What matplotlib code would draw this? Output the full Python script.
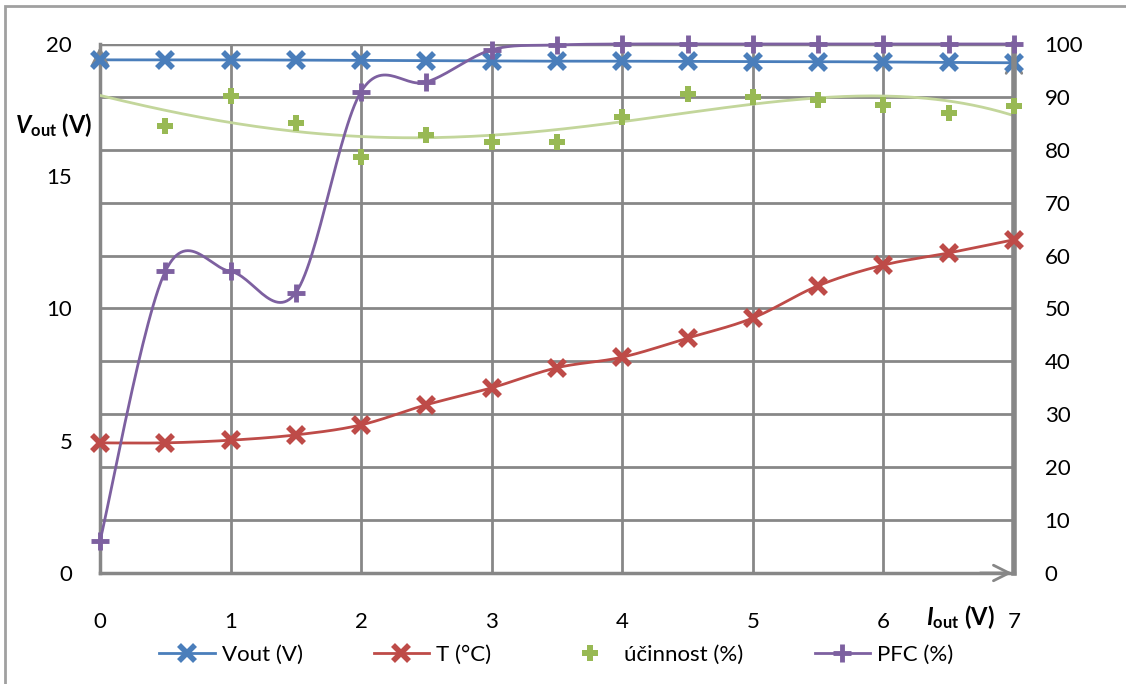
import numpy as np
import matplotlib
matplotlib.use("Agg")
import matplotlib.pyplot as plt
from matplotlib.patches import Rectangle

plt.rcParams['font.family'] = ['Lato', 'DejaVu Sans']
plt.rcParams['mathtext.fontset'] = 'custom'
plt.rcParams['mathtext.rm'] = 'Lato'
plt.rcParams['mathtext.bf'] = 'Lato:bold'
plt.rcParams['mathtext.it'] = 'Lato:italic'
plt.rcParams['mathtext.bfit'] = 'Lato:bold:italic'

# data
iout = [0, 0.5, 1, 1.5, 2, 2.5, 3, 3.5, 4, 4.5, 5, 5.5, 6, 6.5, 7]
vout = [19.40, 19.40, 19.40, 19.39, 19.38, 19.37, 19.36, 19.35, 19.35, 19.34, 19.33, 19.33, 19.32, 19.30, 19.29]
temp = [24.6, 24.6, 25.1, 26.1, 28.0, 31.8, 35.0, 38.8, 40.8, 44.4, 48.2, 54.3, 58.2, 60.5, 63.0]
ucinnost = [np.nan, 84.5, 90.2, 85.0, 78.6, 82.8, 81.5, 81.5, 86.2, 90.5, 90.0, 89.4, 88.5, 87.0, 88.3]
pfc = [6.0, 57.0, 57.0, 53.0, 91.0, 92.8, 98.9, 99.8, 100, 100, 100, 100, 100, 100, 100]

BLUE = '#4A7EBB'
RED = '#BE4B48'
GREEN = '#98B954'
PURPLE = '#7D60A0'
TREND = '#C3D69B'
GRID = '#878787'


def smooth(x, y, n=30):
    # Excel-like smoothed line (Catmull-Rom bezier)
    x = np.asarray(x, float)
    y = np.asarray(y, float)
    px = np.concatenate([[x[0]], x, [x[-1]]])
    py = np.concatenate([[y[0]], y, [y[-1]]])
    t = np.linspace(0, 1, n)
    xs, ys = [], []
    for i in range(1, len(px) - 2):
        p0 = np.array([px[i], py[i]])
        p3 = np.array([px[i + 1], py[i + 1]])
        c1 = p0 + (p3 - np.array([px[i - 1], py[i - 1]])) / 6
        c2 = p3 - (np.array([px[i + 2], py[i + 2]]) - p0) / 6
        b = ((1 - t) ** 3)[:, None] * p0 + (3 * (1 - t) ** 2 * t)[:, None] * c1 \
            + (3 * (1 - t) * t ** 2)[:, None] * c2 + (t ** 3)[:, None] * p3
        xs.extend(b[:, 0])
        ys.extend(b[:, 1])
    return np.array(xs), np.array(ys)


fig = plt.figure(figsize=(11.26, 6.84), dpi=100)
fig.patches.append(Rectangle((5 / 1126, -0.02), 1.05, 1.011, transform=fig.transFigure,
                             fill=False, edgecolor='#A0A0A0', lw=2))
ax = fig.add_axes([0.0888, 0.1623, 0.8117, 0.7734])
ax2 = ax.twinx()

ax.set_xlim(0, 7)
ax.set_ylim(0, 20)
ax2.set_ylim(0, 100)

for v in range(1, 7):
    ax.axvline(v, color=GRID, lw=2, zorder=0)
for v in np.arange(2, 20, 2):
    ax.axhline(v, color=GRID, lw=2, zorder=0)
ax.axhline(20, color=GRID, lw=2.5, zorder=0)

# Vout (left axis)
sx, sy = smooth(iout, vout)
ax.plot(sx, sy, color=BLUE, lw=2, zorder=3)
ax.plot(iout, vout, ls='none', marker='x', ms=12, mew=4, color=BLUE, zorder=4, clip_on=False)

# T, ucinnost, PFC (right axis)
sx, sy = smooth(iout, temp)
ax2.plot(sx, sy, color=RED, lw=2, zorder=3)
ax2.plot(iout, temp, ls='none', marker='x', ms=12, mew=4, color=RED, zorder=4, clip_on=False)

ux = np.array(iout)
uy = np.array(ucinnost)
ok = ~np.isnan(uy)
coef = np.polyfit(ux[ok], uy[ok], 4)
tx = np.linspace(0, 7, 200)
ax2.plot(tx, np.polyval(coef, tx), color=TREND, lw=2, zorder=2)
ax2.plot(iout, ucinnost, ls='none', marker='P', ms=11, mew=0, color=GREEN, zorder=4, clip_on=False)

sx, sy = smooth(iout, pfc)
ax2.plot(sx, sy, color=PURPLE, lw=2, zorder=3, clip_on=False)
ax2.plot(iout, pfc, ls='none', marker='+', ms=13, mew=3.5, color=PURPLE, zorder=4, clip_on=False)

for a in (ax, ax2):
    a.spines['top'].set_visible(False)
    a.tick_params(length=0, labelsize=16)
    a.set_zorder(1)
ax.patch.set_visible(False)
ax2.spines['left'].set_visible(False)
ax2.spines['bottom'].set_visible(False)
ax.spines['right'].set_visible(False)
ax.spines['left'].set_color(GRID)
ax.spines['left'].set_linewidth(2.5)
ax.spines['bottom'].set_color(GRID)
ax.spines['bottom'].set_linewidth(2.5)
ax2.spines['right'].set_color(GRID)
ax2.spines['right'].set_linewidth(4)

ax.set_xticks(range(8))
ax.set_yticks([0, 5, 10, 15, 20])
ax2.set_yticks(range(0, 101, 10))
ax.tick_params(axis='x', pad=28)
ax.tick_params(axis='y', pad=20)
ax2.tick_params(axis='y', pad=22)

# axis arrows
arrow = dict(arrowstyle='->', color=GRID, lw=2, mutation_scale=28)
ax.annotate('', xy=(0, 1.0), xytext=(0, 0.96), xycoords='axes fraction', arrowprops=arrow)
ax.annotate('', xy=(1, 0.985), xytext=(1, 0.94), xycoords='axes fraction', arrowprops=arrow)
ax.annotate('', xy=(1.001, 0), xytext=(0.96, 0), xycoords='axes fraction', arrowprops=arrow)

fig.text(0.048, 0.817, r'$\mathbfit{V}_{\mathbf{out}}$ (V)', fontsize=17, fontweight='bold',
         ha='center', va='center')
fig.text(0.853, 0.098, r'$\mathbfit{I}_{\mathbf{out}}$ (V)', fontsize=17, fontweight='bold',
         ha='center', va='center')

# legend
h1, = ax.plot([], [], color=BLUE, lw=2, marker='x', ms=12, mew=4)
h2, = ax.plot([], [], color=RED, lw=2, marker='x', ms=12, mew=4)
h3, = ax.plot([], [], ls='none', color=GREEN, marker='P', ms=11, mew=0)
h4, = ax.plot([], [], color=PURPLE, lw=2, marker='+', ms=13, mew=3.5)
fig.legend([h1, h2, h3, h4], ['Vout (V)', 'T (°C)', 'účinnost (%)', 'PFC (%)'],
           loc='center', bbox_to_anchor=(0.494, 0.042), ncol=4, frameon=False,
           fontsize=16, handlelength=2.5, columnspacing=3.2, handletextpad=0.3)

fig.savefig('out.png', dpi=100)
